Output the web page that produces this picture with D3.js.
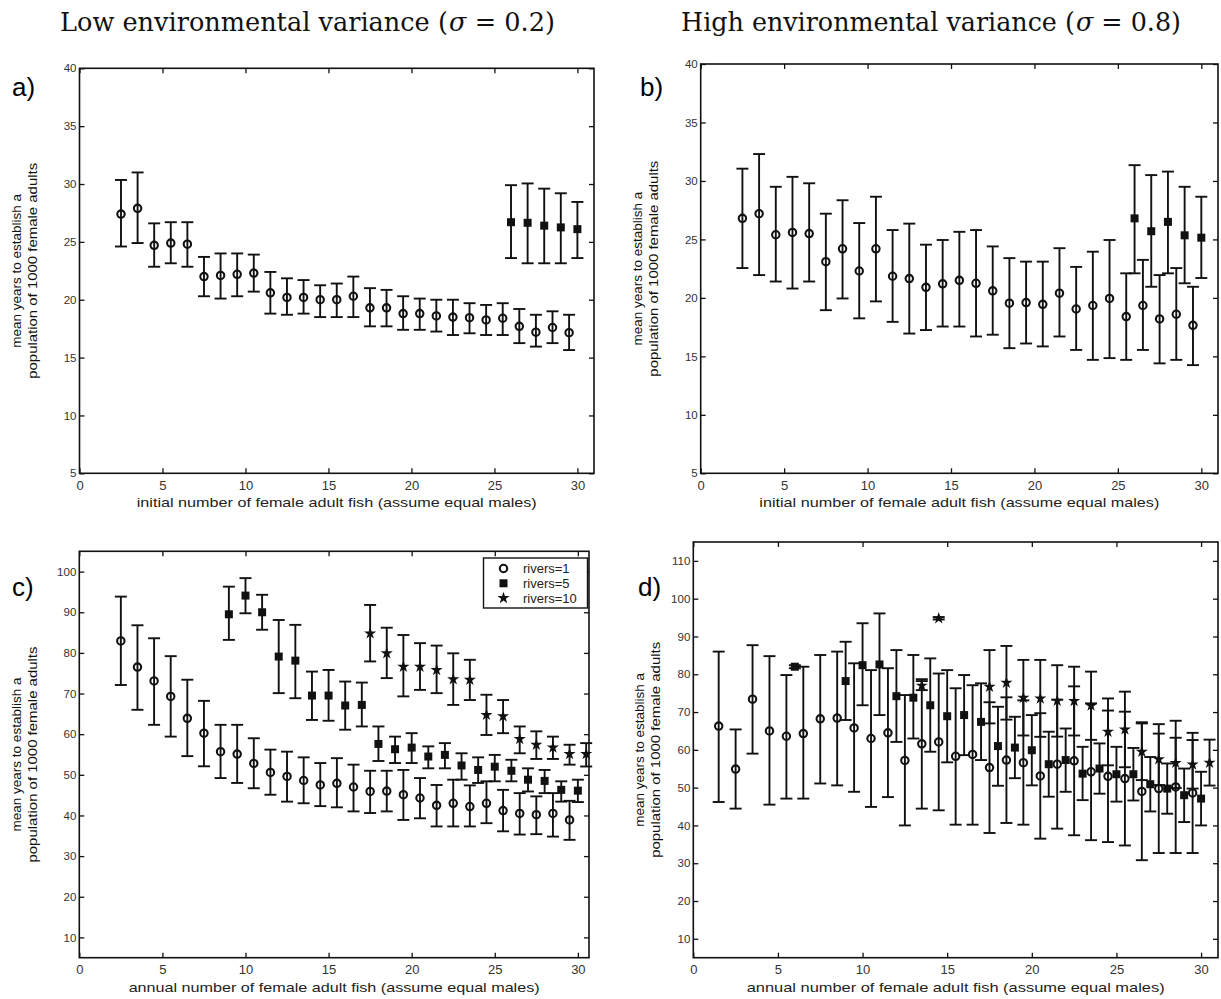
<!DOCTYPE html>
<html><head><meta charset="utf-8">
<script src="https://cdn.jsdelivr.net/npm/d3@7"></script>
<style>
body{margin:0;background:#fff}
svg{display:block}
text{font-family:"Liberation Sans",Arial,Helvetica,sans-serif}
text.title{font-family:"DejaVu Serif","Liberation Serif",serif;white-space:pre}
</style>
</head><body>
<svg id="chart" width="1221" height="999"></svg>
<script>
// ---------------- DATA ----------------
// Panel a (low variance, initial stocking)
const aX1 = [2.5,3.5,4.5,5.5,6.5,7.5,8.5,9.5,10.5,11.5,12.5,13.5,14.5,15.5,16.5,17.5,18.5,19.5,20.5,21.5,22.5,23.5,24.5,25.5,26.5,27.5,28.5,29.5];
const aMean1 = [27.4,27.9,24.7,24.9,24.8,22.0,22.1,22.2,22.3,20.6,20.2,20.2,20.0,20.0,20.3,19.3,19.3,18.8,18.8,18.6,18.5,18.45,18.25,18.4,17.7,17.2,17.6,17.15];
const aHi1 = [30.35,31.0,26.6,26.7,26.7,23.7,24.0,24.0,23.9,22.4,21.85,21.7,21.25,21.4,22.0,21.0,20.85,20.3,20.1,20.0,20.0,19.7,19.55,19.7,19.2,18.7,19.0,18.7];
const aLo1 = [24.6,24.9,22.85,23.15,22.85,20.3,20.1,20.3,20.7,18.8,18.7,18.8,18.5,18.5,18.5,17.7,17.7,17.4,17.4,17.25,16.95,17.1,16.95,16.95,16.25,15.95,16.25,15.65];
const aX5 = [26,27,28,29,30];
const aMean5 = [26.7,26.65,26.4,26.25,26.1];
const aHi5 = [29.9,30.05,29.6,29.2,28.45];
const aLo5 = [23.6,23.15,23.15,23.15,23.6];

// Panel b (high variance, initial stocking)
const bX1 = [2.5,3.5,4.5,5.5,6.5,7.5,8.5,9.5,10.5,11.5,12.5,13.5,14.5,15.5,16.5,17.5,18.5,19.5,20.5,21.5,22.5,23.5,24.5,25.5,26.5,27.5,28.5,29.5];
const bMean1 = [26.8,27.2,25.4,25.6,25.5,23.1,24.2,22.3,24.2,21.85,21.65,20.9,21.2,21.5,21.25,20.6,19.55,19.6,19.45,20.4,19.05,19.35,19.95,18.4,19.35,18.2,18.6,17.65];
const bHi1 = [31.05,32.3,29.5,30.35,29.8,27.2,28.35,26.4,28.65,25.8,26.35,24.55,24.95,25.65,25.8,24.4,23.4,23.1,23.1,24.25,22.65,23.95,24.95,22.1,23.25,21.95,22.55,20.95];
const bLo1 = [22.55,21.95,21.4,20.8,21.4,18.95,19.95,18.25,19.7,17.95,16.95,17.25,17.55,17.55,16.7,16.85,15.7,16.1,15.85,16.7,15.55,14.7,14.85,14.7,15.55,14.4,14.7,14.25];
const bX5 = [26,27,28,29,30];
const bMean5 = [26.8,25.7,26.5,25.35,25.15];
const bHi5 = [31.35,30.5,30.8,29.5,28.65];
const bLo5 = [22.1,20.95,22.1,21.25,21.7];

// Panel c (low variance, annual stocking)
const cX1 = [2.5,3.5,4.5,5.5,6.5,7.5,8.5,9.5,10.5,11.5,12.5,13.5,14.5,15.5,16.5,17.5,18.5,19.5,20.5,21.5,22.5,23.5,24.5,25.5,26.5,27.5,28.5,29.5];
const cMean1 = [82.95,76.5,73.1,69.3,63.9,60.25,55.7,55.1,52.8,50.6,49.6,48.6,47.5,47.9,47.0,45.9,46.0,45.1,44.3,42.5,43.0,42.2,43.0,41.2,40.5,40.2,40.5,38.9];
const cHi1 = [93.85,86.8,83.6,79.2,73.4,68.2,62.3,62.3,59.0,56.2,55.7,54.3,52.9,54.1,52.5,51.0,51.0,51.2,49.2,47.5,48.8,47.4,48.4,46.3,45.5,44.7,45.5,43.6];
const cLo1 = [72.1,66.0,62.3,59.4,54.6,52.1,49.2,48.0,46.7,45.1,43.4,43.0,42.3,42.0,41.0,40.6,41.0,38.9,39.3,37.3,37.3,37.3,38.1,36.1,35.3,35.4,34.8,34.0];
const cX5 = [9,10,11,12,13,14,15,16,17,18,19,20,21,22,23,24,25,26,27,28,29,30];
const cMean5 = [89.5,94.1,90.0,79.1,78.1,69.5,69.5,67.05,67.2,57.6,56.3,56.7,54.5,54.9,52.3,51.2,52.0,51.0,48.8,48.5,46.3,46.1];
const cHi5 = [96.3,98.4,94.3,88.1,86.9,75.4,75.8,72.95,72.7,61.9,59.4,60.25,57.0,57.8,55.3,54.3,54.9,53.7,51.6,51.2,48.4,48.8];
const cLo5 = [83.2,89.75,85.7,70.1,68.85,63.5,63.3,61.1,61.9,53.4,52.9,52.9,51.6,51.6,48.8,48.0,48.4,48.4,45.9,45.5,43.4,43.3];
const cX10 = [17.5,18.5,19.5,20.5,21.5,22.5,23.5,24.5,25.5,26.5,27.5,28.5,29.5,30.5];
const cMean10 = [84.8,79.9,76.6,76.6,75.8,73.5,73.4,64.75,64.4,58.8,57.4,56.7,55.1,55.1];
const cHi10 = [91.8,86.2,84.4,82.4,81.8,79.9,78.3,69.7,68.4,61.9,60.7,59.4,57.4,57.8];
const cLo10 = [77.9,73.8,69.3,70.9,70.1,67.2,68.4,59.8,60.25,55.3,53.9,53.9,52.5,52.05];

// Panel d (high variance, annual stocking)
const dX1 = [1.5,2.5,3.5,4.5,5.5,6.5,7.5,8.5,9.5,10.5,11.5,12.5,13.5,14.5,15.5,16.5,17.5,18.5,19.5,20.5,21.5,22.5,23.5,24.5,25.5,26.5,27.5,28.5,29.5];
const dMean1 = [66.3,54.9,73.4,65.0,63.6,64.3,68.2,68.4,65.8,63.0,64.5,57.2,61.6,62.1,58.3,58.8,55.3,57.3,56.6,53.1,56.2,57.1,54.2,53.0,52.4,49.0,49.75,50.2,48.6];
const dHi1 = [86.0,65.4,87.7,84.8,79.8,82.0,85.1,86.0,82.9,81.1,81.6,74.5,78.7,80.2,76.3,77.1,72.6,73.9,73.1,69.7,73.25,76.8,72.3,70.4,70.1,67.3,66.8,67.7,64.5];
const dLo1 = [46.2,44.45,59.0,45.5,47.1,47.1,51.1,50.6,48.9,44.9,47.5,40.0,44.45,44.0,40.2,40.2,38.0,40.65,40.2,36.5,39.15,37.4,36.1,35.6,34.7,30.8,32.7,32.7,32.7];
const dX5 = [6,9,10,11,12,13,14,15,16,17,18,19,20,21,22,23,24,25,26,27,28,29,30];
const dMean5 = [82.0,78.2,82.4,82.6,74.2,73.8,71.8,68.9,69.2,67.4,61.0,60.6,59.9,56.2,57.3,53.7,55.05,53.55,53.55,50.9,49.75,48.0,47.1];
const dHi5 = [82.4,88.6,93.5,96.1,86.4,85.1,84.2,81.1,79.8,77.6,71.4,68.75,69.2,64.8,65.65,60.8,61.7,60.8,60.5,58.1,56.4,55.05,54.2];
const dLo5 = [81.6,67.9,71.8,69.2,62.1,63.0,59.5,56.7,58.6,57.3,50.5,52.5,50.6,47.6,48.9,46.7,48.4,46.3,46.6,43.7,43.1,40.9,40.0];
const dX10 = [13.5,14.5,17.5,18.5,19.5,20.5,21.5,22.5,23.5,24.5,25.5,26.5,27.5,28.5,29.5,30.5];
const dMean10 = [77.0,94.8,76.7,77.75,73.8,73.6,73.0,72.9,71.7,64.8,65.4,59.5,57.5,56.55,56.1,56.6];
const dHi10 = [78.2,95.1,86.4,87.5,83.8,83.8,82.4,82.0,80.7,73.6,75.4,67.0,64.3,63.2,62.6,62.7];
const dLo10 = [75.8,94.5,67.0,68.0,63.8,63.45,63.5,63.8,62.65,55.9,55.4,52.0,50.7,49.9,49.75,50.55];

// tick labels
const xTicks = [0,5,10,15,20,25,30];
const yTicksTop = [5,10,15,20,25,30,35,40];
const yTicksC = [10,20,30,40,50,60,70,80,90,100];
const yTicksD = [10,20,30,40,50,60,70,80,90,100,110];
const legendLabels = ["rivers=1","rivers=5","rivers=10"];
const xLabelInitial = "initial number of female adult fish (assume equal males)";
const xLabelAnnual = "annual number of female adult fish (assume equal males)";
const yLabel1 = "mean years to establish a";
const yLabel2 = "population of 1000 female adults";
const titleLow = ["Low environmental variance (", "σ", " = 0.2)"];
const titleHigh = ["High environmental variance (", "σ", " = 0.8)"];

// ---------------- LAYOUT ----------------
const svg = d3.select("#chart");

function series(xs, m, hi, lo, kind){
  return {kind, pts: xs.map((x,i)=>({x, m:m[i], hi:hi[i], lo:lo[i]}))};
}

const panels = [
  {tag:"a)", tagX:12, tagY:96, box:{l:79.5,r:594,t:68.3,b:473.3}, xd:[0,31], yd:[5,40], yt:yTicksTop,
   xlab:xLabelInitial, xlabLen:400, ylabX:[16,32],
   data:[series(aX1,aMean1,aHi1,aLo1,"o"), series(aX5,aMean5,aHi5,aLo5,"s")]},
  {tag:"b)", tagX:640, tagY:96, box:{l:700.7,r:1218,t:64,b:473.3}, xd:[0,31], yd:[5,40], yt:yTicksTop,
   xlab:xLabelInitial, xlabLen:400, ylabX:[637,653],
   data:[series(bX1,bMean1,bHi1,bLo1,"o"), series(bX5,bMean5,bHi5,bLo5,"s")]},
  {tag:"c)", tagX:12, tagY:596, box:{l:79.3,r:589,t:551.3,b:957.7}, xd:[0,30.67], yd:[5,105], yt:yTicksC,
   xlab:xLabelAnnual, xlabLen:411, ylabX:[16,32], legend:true,
   data:[series(cX1,cMean1,cHi1,cLo1,"o"), series(cX5,cMean5,cHi5,cLo5,"s"), series(cX10,cMean10,cHi10,cLo10,"p")]},
  {tag:"d)", tagX:638, tagY:596, box:{l:693.3,r:1218,t:542,b:957.7}, xd:[0,31], yd:[5,115], yt:yTicksD,
   xlab:xLabelAnnual, xlabLen:418, ylabX:[639,655],
   data:[series(dX1,dMean1,dHi1,dLo1,"o"), series(dX5,dMean5,dHi5,dLo5,"s"), series(dX10,dMean10,dHi10,dLo10,"p")]}
];

const starPath = d3.symbol().type(d3.symbolStar).size(46)();

function drawMarker(g, kind, cx, cy){
  if(kind==="o"){
    g.append("circle").attr("cx",cx).attr("cy",cy).attr("r",3.7)
      .attr("fill","none").attr("stroke","#111").attr("stroke-width",2.1);
  } else if(kind==="s"){
    g.append("rect").attr("x",cx-4).attr("y",cy-4).attr("width",8).attr("height",8).attr("fill","#111");
  } else {
    g.append("path").attr("d",starPath).attr("transform",`translate(${cx},${cy})`).attr("fill","#111");
  }
}

panels.forEach(p=>{
  const B = p.box;
  const x = d3.scaleLinear().domain(p.xd).range([B.l,B.r]);
  const y = d3.scaleLinear().domain(p.yd).range([B.b,B.t]);
  const g = svg.append("g");

  // axes with inward ticks
  const bottom = g.append("g").attr("transform",`translate(0,${B.b})`)
    .call(d3.axisBottom(x).tickValues(xTicks).tickSizeInner(-5).tickSizeOuter(0).tickPadding(7).tickFormat(d3.format("d")));
  const top = g.append("g").attr("transform",`translate(0,${B.t})`)
    .call(d3.axisTop(x).tickValues(xTicks).tickSizeInner(-5).tickSizeOuter(0).tickFormat(""));
  const left = g.append("g").attr("transform",`translate(${B.l},0)`)
    .call(d3.axisLeft(y).tickValues(p.yt).tickSizeInner(-5).tickSizeOuter(0).tickPadding(3).tickFormat(d3.format("d")));
  const right = g.append("g").attr("transform",`translate(${B.r},0)`)
    .call(d3.axisRight(y).tickValues(p.yt).tickSizeInner(-5).tickSizeOuter(0).tickFormat(""));
  [bottom,top,left,right].forEach(a=>{
    a.select(".domain").remove();
    a.selectAll(".tick line").attr("stroke","#111").attr("stroke-width",1.3);
  });
  bottom.selectAll("text").attr("font-size",13).attr("fill","#333");
  left.selectAll("text").attr("font-size",11.5).attr("fill","#333");

  // frame
  g.append("rect").attr("x",B.l).attr("y",B.t).attr("width",B.r-B.l).attr("height",B.b-B.t)
    .attr("fill","none").attr("stroke","#111").attr("stroke-width",1.6);

  // series
  p.data.forEach(s=>{
    const sg = g.append("g");
    s.pts.forEach(d=>{
      const cx = x(d.x);
      sg.append("line").attr("x1",cx).attr("x2",cx).attr("y1",y(d.lo)).attr("y2",y(d.hi))
        .attr("stroke","#111").attr("stroke-width",1.9);
      [d.lo,d.hi].forEach(v=>{
        sg.append("line").attr("x1",cx-6).attr("x2",cx+6).attr("y1",y(v)).attr("y2",y(v))
          .attr("stroke","#111").attr("stroke-width",1.9);
      });
      drawMarker(sg, s.kind, cx, y(d.m));
    });
  });

  // x axis label
  g.append("text").attr("x",(B.l+B.r)/2).attr("y",B.b+34).attr("text-anchor","middle")
    .attr("font-size",13.5).attr("fill","#222")
    .attr("textLength",p.xlabLen).attr("lengthAdjust","spacingAndGlyphs").text(p.xlab);

  // y axis label (two lines)
  const yc = (B.t+B.b)/2;
  [yLabel1,yLabel2].forEach((t,i)=>{
    const tx = g.append("text").attr("transform",`translate(${p.ylabX[i]+5},${yc}) rotate(-90)`)
      .attr("text-anchor","middle").attr("font-size",13.5).attr("fill","#111").text(t);
    if(i===1) tx.attr("textLength",216).attr("lengthAdjust","spacingAndGlyphs");
  });

  // panel tag
  svg.append("text").attr("x",p.tagX).attr("y",p.tagY).attr("font-size",26).attr("fill","#000").text(p.tag);

  // legend
  if(p.legend){
    const lg = g.append("g");
    lg.append("rect").attr("x",483.5).attr("y",558).attr("width",104).attr("height",50)
      .attr("fill","#fff").attr("stroke","#111").attr("stroke-width",1.4);
    ["o","s","p"].forEach((k,i)=>{
      const ly = 568.5 + i*14.8;
      drawMarker(lg,k,503.5,ly);
      lg.append("text").attr("x",523).attr("y",ly+4.5).attr("font-size",13).attr("fill","#222").text(legendLabels[i]);
    });
  }
});

// titles: three adjacent text pieces, then scaled to the target width
function title(xLeft, parts, len){
  const g = svg.append("g");
  let cur = 0;
  parts.forEach((s,i)=>{
    const t = g.append("text").attr("class","title").attr("x",cur).attr("y",0)
      .attr("font-size",26).attr("fill","#111").text(s.replace(/ /g,"\u00a0"));
    if(i===1) t.attr("font-style","italic");
    cur += t.node().getComputedTextLength() + (i===0 ? 1 : 0);
  });
  g.attr("transform",`translate(${xLeft},31) scale(${len/cur},1)`);
}
title(60, titleLow, 495);
title(681, titleHigh, 500);
</script>
</body></html>
